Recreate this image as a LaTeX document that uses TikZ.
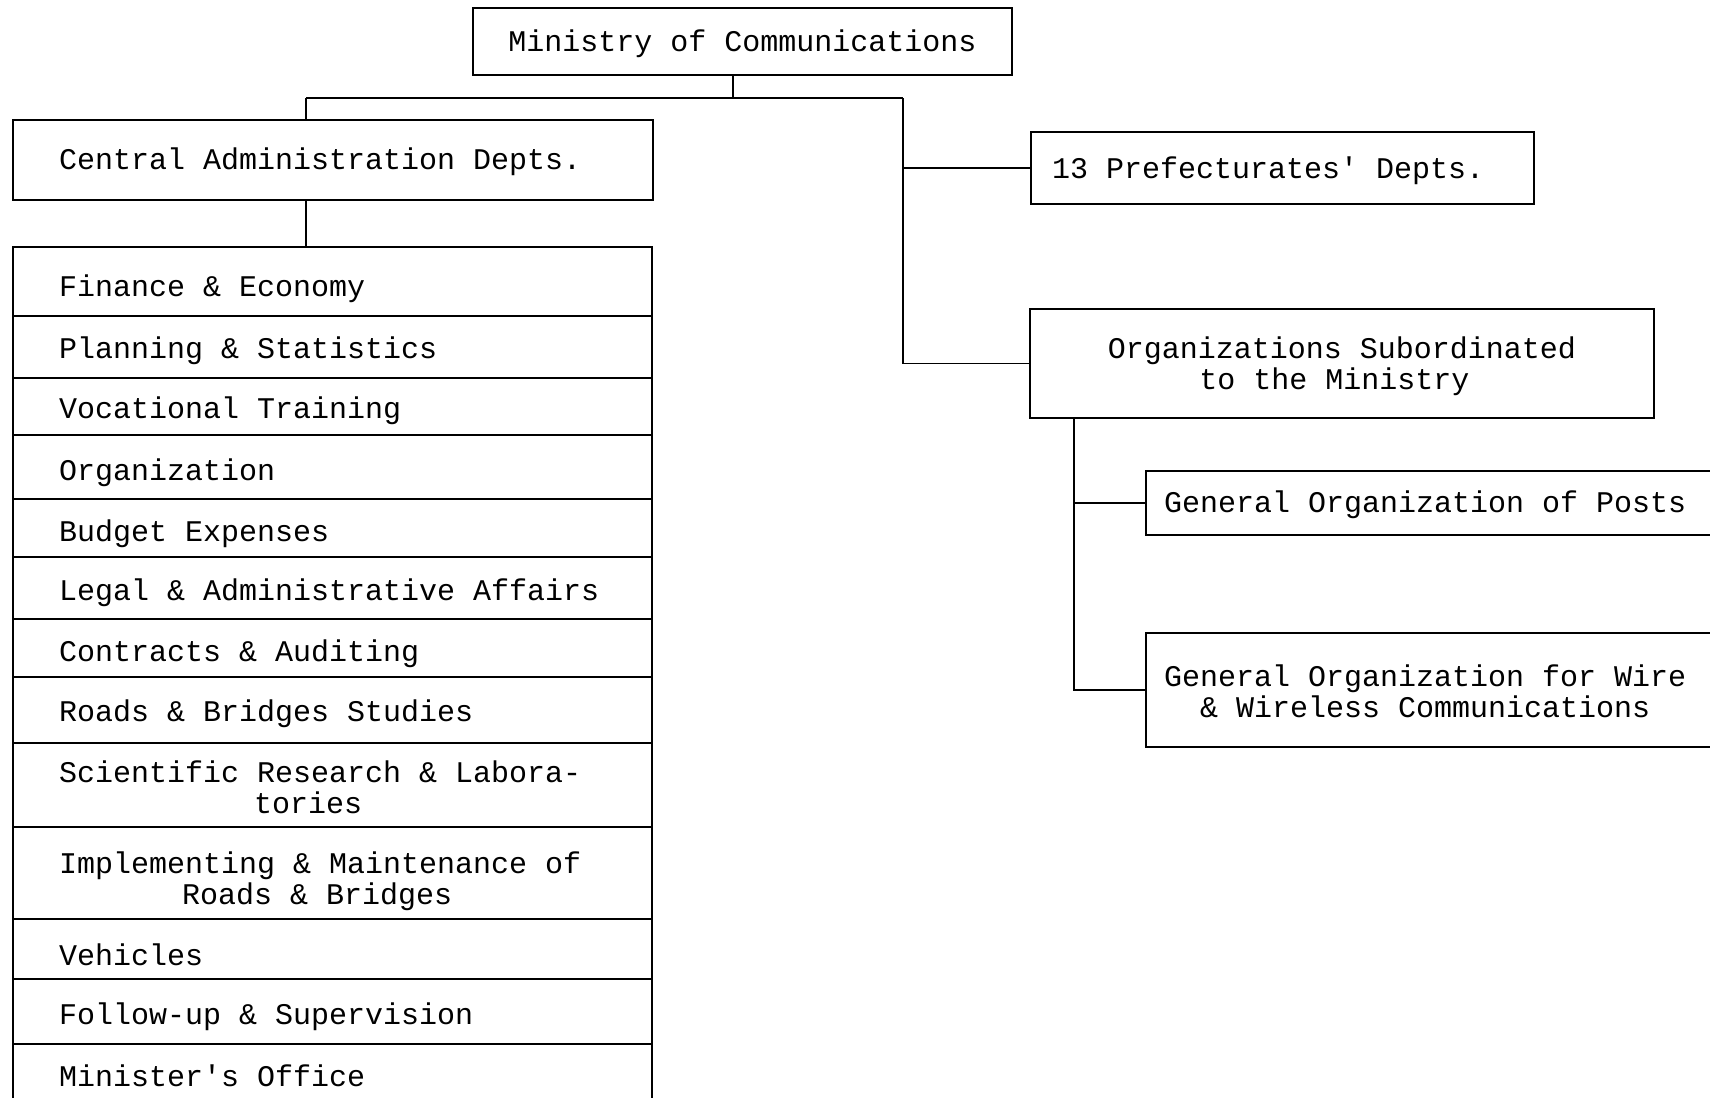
\documentclass[tikz,border=0pt]{standalone}
\usepackage{fontspec}
\setmainfont{Liberation Mono}
\newcommand\lowertext[2][2.7pt]{\raisebox{-#1}[\height][\depth]{#2}}
\begin{document}
\begin{tikzpicture}[x=0.5pt,y=-0.5pt,
  box/.style={draw, line width=1.2pt, font=\fontsize{15pt}{15.5pt}\selectfont, inner ysep=0pt},
  conn/.style={line width=0.7pt},
  lbox/.style={box, anchor=west, align=flush left},
  row/.style={box, anchor=north west, minimum height=#1, text width=273.5pt, inner xsep=23pt, align=flush left}
]
\clip (0,0) rectangle (1710,1098);
% top boxes
\node[box, minimum width=269.5pt, minimum height=33.5pt] (min) at (742.5,41.5) {\lowertext[1pt]{Ministry of Communications}};
\node[lbox, minimum height=40pt, inner xsep=23pt, text width=274pt] (cad) at (12,160) {\lowertext[1pt]{Central Administration Depts.}};
\node[lbox, minimum height=36pt, inner xsep=10.5pt, text width=230.5pt] (pre) at (1030,168) {\lowertext[1.5pt]{13 Prefecturates\textquotesingle{} Depts.}};
\node[box, minimum width=312pt, minimum height=54.5pt] (org) at (1342,363.5) {\lowertext[2pt]{\begin{tabular}{@{}c@{}}Organizations Subordinated\\to the Ministry\kern7.5pt\end{tabular}}};
\node[lbox, minimum height=32pt, inner xsep=9pt, text width=269.5pt] (posts) at (1145,503) {\lowertext[1pt]{General Organization of Posts}};
\node[lbox, minimum height=57pt, inner xsep=9pt, text width=269.5pt] (wire) at (1145,690) {\lowertext[3pt]{\begin{tabular}{@{}c@{}}General Organization for Wire\\\& Wireless Communications\end{tabular}}};
% list rows
\node[row=34.5pt] (r1) at (12,246) {\lowertext[3.6pt]{Finance \& Economy}};
\node[row=31pt] (r2) at (12,315) {\lowertext[1.8pt]{Planning \& Statistics}};
\node[row=28.5pt] (r3) at (12,377) {\lowertext[2.2pt]{Vocational Training}};
\node[row=32pt] (r4) at (12,434) {\lowertext[2.7pt]{Organization}};
\node[row=29pt] (r5) at (12,498) {\lowertext[2.7pt]{Budget Expenses}};
\node[row=31pt] (r6) at (12,556) {\lowertext[2.2pt]{Legal \& Administrative Affairs}};
\node[row=29pt] (r7) at (12,618) {\lowertext[2.7pt]{Contracts \& Auditing}};
\node[row=33pt] (r8) at (12,676) {\lowertext[1.8pt]{Roads \& Bridges Studies}};
\node[row=42pt] (r9) at (12,742) {\lowertext[3.3pt]{\begin{tabular}{@{}c@{}}Scientific Research \& Labora-\\tories\kern12pt\end{tabular}}};
\node[row=46pt] (r10) at (12,826) {\lowertext[4.6pt]{\begin{tabular}{@{}c@{}}Implementing \& Maintenance of\\Roads \& Bridges\kern3pt\end{tabular}}};
\node[row=30pt] (r11) at (12,918) {\lowertext[2.7pt]{Vehicles}};
\node[row=32.5pt] (r12) at (12,978) {\lowertext[2.7pt]{Follow-up \& Supervision}};
\node[row=31pt] (r13) at (12,1043) {\lowertext[0.5pt]{Minister\textquotesingle s Office}};
% connectors
\coordinate (j1) at (733,98);
\coordinate (cx) at (306,0);
\coordinate (sp) at (903,98);
\coordinate (sx) at (1074,0);
\draw[conn] (min.south -| j1) -- (j1);
\draw[conn] (j1 -| cx) -- (sp);
\draw[conn] (j1 -| cx) -- (cad.north -| cx);
\draw[conn] (sp) -- (sp |- org.west) -- (org.west);
\draw[conn] (sp |- pre.west) -- (pre.west);
\draw[conn] (cad.south -| cx) -- (r1.north -| cx);
\draw[conn] (org.south -| sx) -- (sx |- wire.west) -- (wire.west);
\draw[conn] (sx |- posts.west) -- (posts.west);
\end{tikzpicture}
\end{document}
